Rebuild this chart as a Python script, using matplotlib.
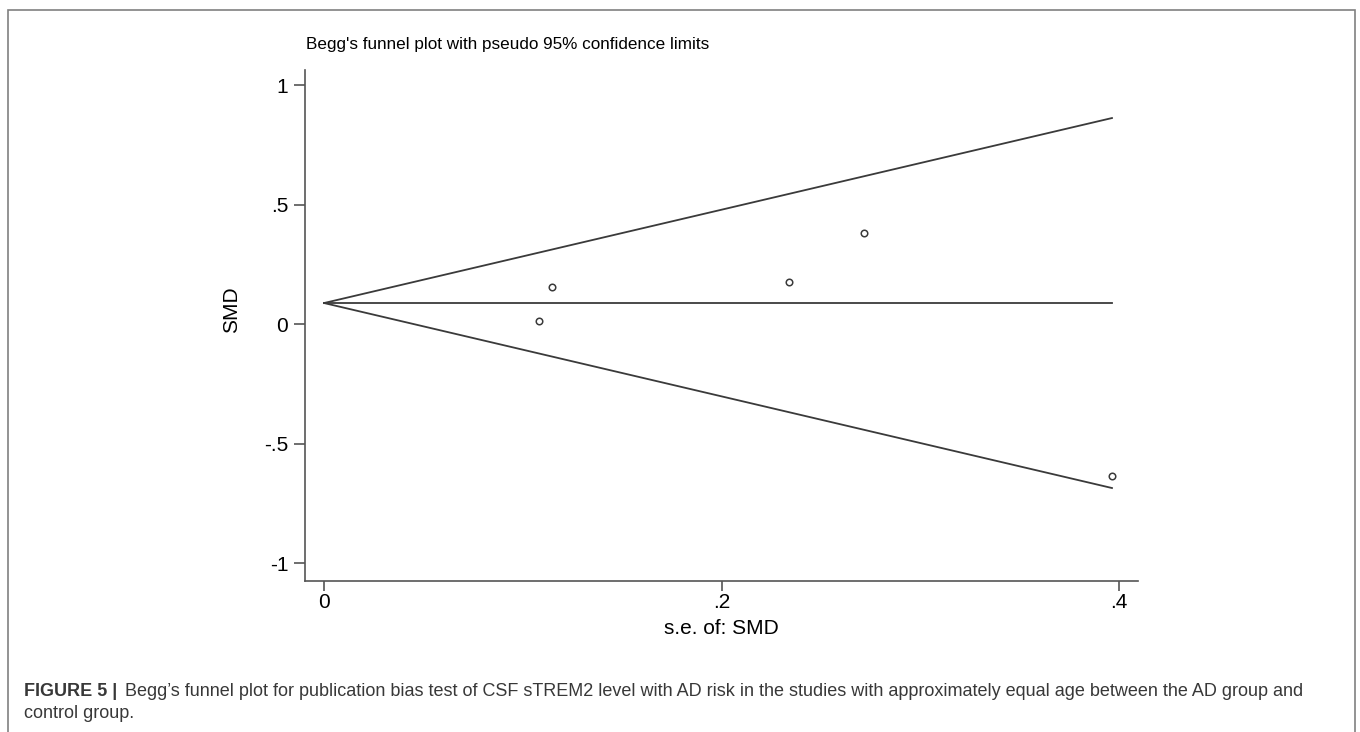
import matplotlib
matplotlib.use('agg')
import matplotlib.pyplot as plt
from matplotlib.patches import Rectangle

# Study estimates
se_values = [0.1083, 0.1146, 0.2341, 0.2717, 0.3965]
smd_values = [0.013, 0.156, 0.175, 0.381, -0.636]

# Pooled estimate and pseudo 95% limits (from se = 0 to the largest se)
limit_se = [0.0, 0.3965]
pooled_smd = [0.088, 0.088]
upper_limit = [0.088, 0.862]
lower_limit = [0.088, -0.686]

x_ticks = [0, 0.2, 0.4]
x_tick_labels = ['0', '.2', '.4']
y_ticks = [-1, -0.5, 0, 0.5, 1]
y_tick_labels = ['-1', '-.5', '0', '.5', '1']

W, H = 1360, 732
plt.rcParams['font.family'] = ['Liberation Sans', 'DejaVu Sans']

fig = plt.figure(figsize=(W / 100, H / 100), dpi=100)
fig.patch.set_facecolor('white')

# outer frame of the figure panel
fig.patches.append(Rectangle((8 / W, -0.05), 1347 / W, 1.05 - 10 / H,
                             transform=fig.transFigure, fill=False,
                             edgecolor='#808080', linewidth=1.2))

ax = fig.add_axes([305 / W, 1 - 581 / H, 833 / W, 511 / H])

line_color = '#3a3a3a'
ax.plot(limit_se, upper_limit, color=line_color, linewidth=1.3)
ax.plot(limit_se, pooled_smd, color=line_color, linewidth=1.3)
ax.plot(limit_se, lower_limit, color=line_color, linewidth=1.3)
ax.scatter(se_values, smd_values, s=22, facecolors='white',
           edgecolors=line_color, linewidths=1.1, zorder=3)

ax.set_xlim(-0.0096, 0.4096)
ax.set_ylim(-1.075, 1.063)
ax.set_xticks(x_ticks)
ax.set_xticklabels(x_tick_labels)
ax.set_yticks(y_ticks)
ax.set_yticklabels(y_tick_labels)

for side in ['top', 'right']:
    ax.spines[side].set_visible(False)
for side in ['left', 'bottom']:
    ax.spines[side].set_color('#555555')
    ax.spines[side].set_linewidth(1.2)
ax.tick_params(axis='both', direction='out', colors='#555555',
               labelcolor='black', labelsize=15, width=1.2)
ax.tick_params(axis='y', length=8, pad=4)
ax.tick_params(axis='x', length=7, pad=2)

ax.set_xlabel('s.e. of: SMD', fontsize=15, labelpad=5)
fig.text(232 / W, 1 - 310 / H, 'SMD', rotation=90, fontsize=15,
         ha='center', va='center')

fig.text(306 / W, 1 - 49 / H,
         "Begg's funnel plot with pseudo 95% confidence limits",
         fontsize=12.3, ha='left', va='baseline')

# caption
cap_color = '#383838'
fig.text(24 / W, 1 - 696 / H, 'FIGURE 5 |', fontsize=13, fontweight='bold',
         color=cap_color, ha='left', va='baseline')
fig.text(125 / W, 1 - 696 / H,
         'Begg\u2019s funnel plot for publication bias test of CSF sTREM2 level with AD risk '
         'in the studies with approximately equal age between the AD group and',
         fontsize=13, color=cap_color, ha='left', va='baseline')
fig.text(24 / W, 1 - 718 / H, 'control group.', fontsize=13,
         color=cap_color, ha='left', va='baseline')

fig.savefig('out.png', dpi=100)
